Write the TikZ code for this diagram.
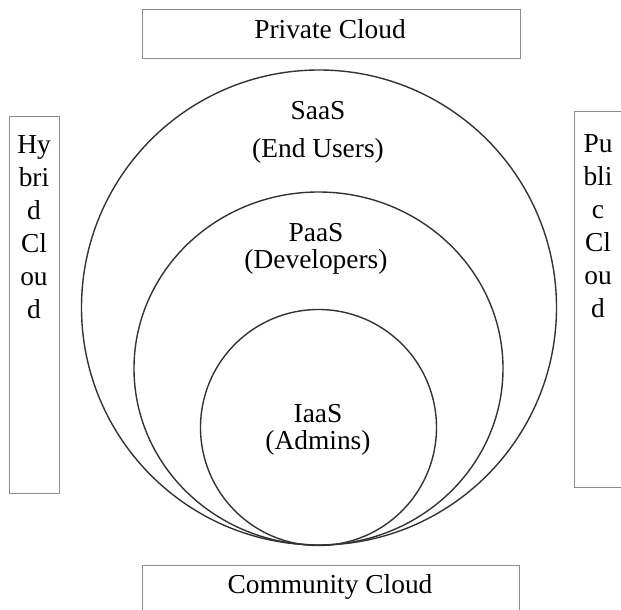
\documentclass[tikz,border=0pt]{standalone}
\usepackage{fontspec}
\setmainfont{Liberation Serif}
\usetikzlibrary{shapes.geometric}

\begin{document}
\begin{tikzpicture}[x=0.5pt, y=-0.5pt,
    cloudbox/.style={rectangle, draw=black!45, line width=0.5pt, inner sep=0pt},
    layer/.style={draw=black!80, line width=0.7pt, inner sep=0pt},
    txt/.style={font=\fontsize{13.7}{16.5}\selectfont, align=center, inner sep=0pt, anchor=base},
    lbl/.style={font=\fontsize{13.7}{13.5}\selectfont, align=center, inner sep=0pt, anchor=base}]
    \useasboundingbox (0, 0) rectangle (621, 610);

    % Boxes
    \node[cloudbox, minimum width=189pt, minimum height=24.5pt] at (331, 34.5) (private) {};
    \node[cloudbox, minimum width=188.5pt, minimum height=25pt] at (330.5, 590) (community) {};
    \node[cloudbox, minimum width=25pt, minimum height=188pt] at (34, 305) (hybrid) {};
    \node[cloudbox, minimum width=24pt, minimum height=187.5pt] at (598, 299.5) (public) {};

    % base = baseline of the last line
    \node[txt] at (330, 39) (privatetxt) {Private Cloud};
    \node[txt] at (330, 593) (communitytxt) {Community Cloud};
    \node[txt] at (34, 318) (hybridtxt) {Hy\\bri\\d\\Cl\\ou\\d};
    \node[txt] at (598, 317) (publictxt) {Pu\\bli\\c\\Cl\\ou\\d};

    % Layers
    \node[layer, circle, minimum size=237.5pt] at (319, 307.5) (saas) {};
    \node[layer, ellipse, minimum width=184.5pt, minimum height=176.5pt] at (318.5, 368.5) (paas) {};
    \node[layer, circle, minimum size=118pt] at (318.5, 427.5) (iaas) {};

    \node[lbl] at (318, 157) (saastxt) {SaaS\\[5.5pt](End Users)};
    \node[lbl] at (316, 268) (paastxt) {PaaS\\(Developers)};
    \node[lbl] at (318, 449) (iaastxt) {IaaS\\(Admins)};

  \end{tikzpicture}
\end{document}
